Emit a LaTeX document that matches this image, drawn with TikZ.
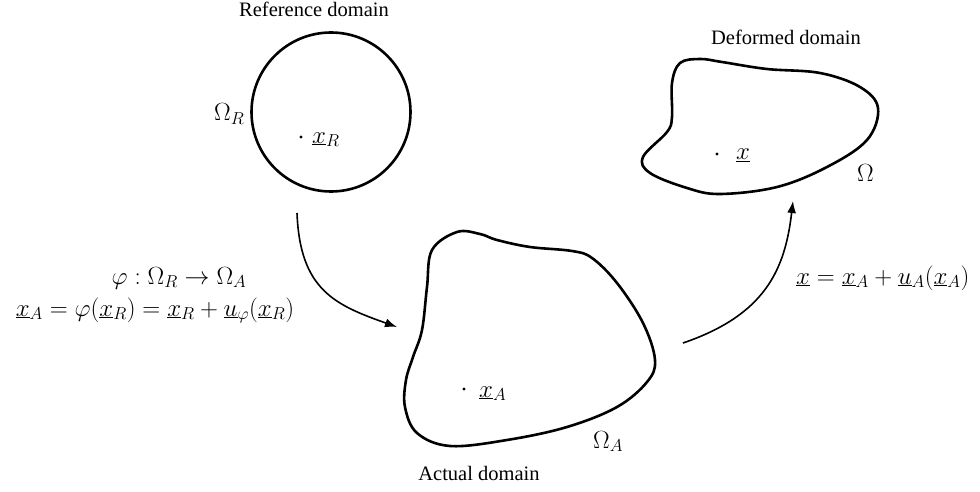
\documentclass[tikz,border=0pt]{standalone}
\usepackage[no-math]{fontspec}
\newfontfamily\tnr{Liberation Serif}
\usetikzlibrary{arrows.meta}
\tikzset{
  regionline/.style={line width=2.6pt, line join=round},
  maparrow/.style={line width=1.6pt, -{Latex[length=12pt,width=9pt]}},
  titletext/.style={font=\tnr\fontsize{20.5}{24}\selectfont, anchor=base, inner sep=0pt},
  mlabel/.style={font=\fontsize{25.5}{30}\selectfont, anchor=base west, inner sep=0pt},
  eqlabel/.style={font=\fontsize{25.5}{30}\selectfont, anchor=base, inner sep=0pt},
  ptdot/.style={circle, fill=black, inner sep=0pt, minimum size=3.4pt}
}
\begin{document}
\begin{tikzpicture}[x=1pt,y=-1pt]
\useasboundingbox (0,0) rectangle (980,492);
% reference domain
\draw[regionline] (331,112) circle (79.5);
\node[titletext] (tR) at (314,17) {Reference domain};
\node[mlabel] (OR) at (214,121) {$\Omega_R$};
\node[ptdot] (pR) at (301,137) {};
\node[mlabel] (xR) at (312,143) {$\underline{x}_R$};
% deformed domain
\draw[regionline] plot[smooth cycle, tension=0.6] coordinates {
 (643,157) (667,132) (672,117) (672,83) (680,63) (700,59) (722,62)
 (767,69) (820,73) (860,87) (878,108) (867,140) (827,167) (777,187)
 (720,194) (687,188) (650,173)};
\node[titletext] (tD) at (786,45) {Deformed domain};
\node[ptdot] (pD) at (717,154) {};
\node[mlabel] (xD) at (736,160) {$\underline{x}$};
\node[mlabel] (OD) at (857,182) {$\Omega$};
% actual domain
\draw[regionline] plot[smooth cycle, tension=0.6] coordinates {
 (457,232) (480,234) (497,240) (530,247) (572,251) (592,258) (617,283)
 (643,323) (655,360) (647,382) (617,407) (567,427) (507,440) (450,446)
 (417,433) (405,407) (406,380) (413,357) (422,330) (427,287) (432,250)};
\node[titletext] (tA) at (479,480) {Actual domain};
\node[ptdot] (pA) at (464,389) {};
\node[mlabel] (xA) at (479,397) {$\underline{x}_A$};
\node[mlabel] (OA) at (593,448) {$\Omega_A$};
% arrows
\coordinate (a1s) at (297,213);
\coordinate (a1e) at (397,327);
\coordinate (a2s) at (683,343);
\coordinate (a2e) at (793,201);
\draw[maparrow] (a1s) .. controls (300,290) and (335,305) .. (a1e);
\draw[maparrow] (a2s) .. controls (765,315) and (785,270) .. (a2e);
% labels
\node[eqlabel] (phi) at (179,284) {$\varphi:\Omega_R\rightarrow\Omega_A$};
\node[eqlabel] (eq1) at (155,316) {$\underline{x}_A=\varphi(\underline{x}_R)=\underline{x}_R+\underline{u}_\varphi(\underline{x}_R)$};
\node[mlabel] (eq2) at (796,284) {$\underline{x}=\underline{x}_A+\underline{u}_A(\underline{x}_A)$};
\end{tikzpicture}
\end{document}
